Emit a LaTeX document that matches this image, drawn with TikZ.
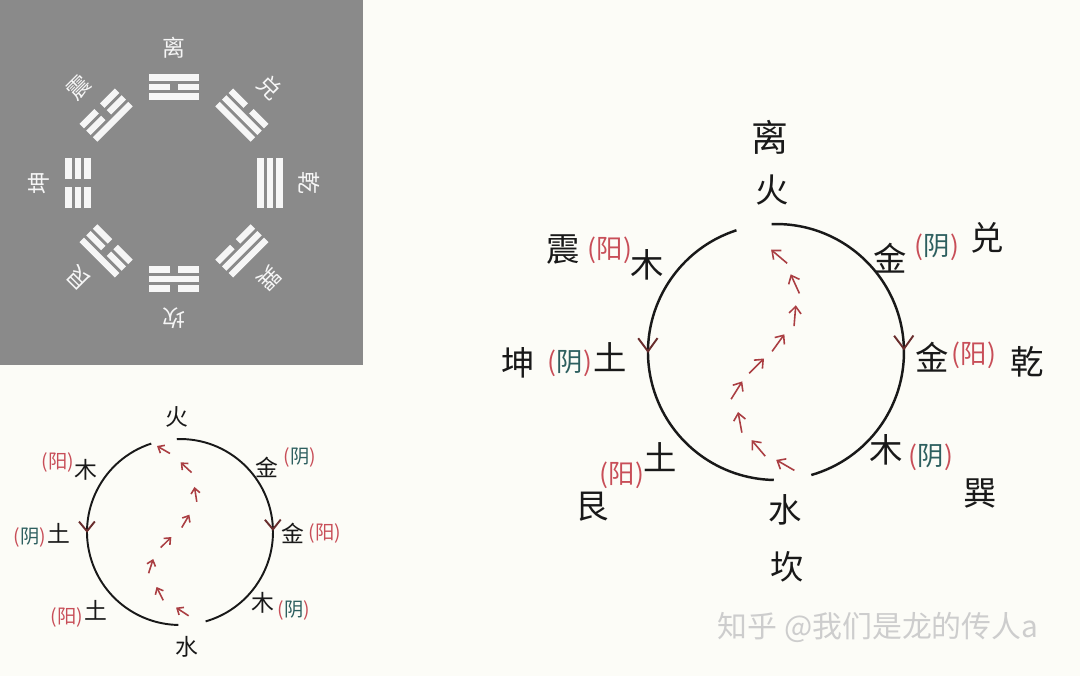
\documentclass[tikz,border=0pt]{standalone}
\usepackage{fontspec}
\usepackage{xcolor}
\usepackage{tikz}
\usetikzlibrary{arrows.meta,decorations.markings}
\newfontfamily\cjk{Noto Sans CJK SC}
\definecolor{paper}{RGB}{252,252,247}
\definecolor{panelgray}{RGB}{138,138,138}
\definecolor{guawhite}{RGB}{246,246,246}
\definecolor{ink}{RGB}{25,25,25}
\definecolor{vdark}{RGB}{105,45,45}
\definecolor{chainred}{RGB}{170,62,66}
\definecolor{tagred}{RGB}{200,78,88}
\definecolor{tagteal}{RGB}{45,95,95}
\definecolor{markgray}{RGB}{205,205,205}
\newcommand{\yintag}{{\color{tagred}(}{\color{tagteal}阴}{\color{tagred})}}

\begin{document}
\begin{tikzpicture}[x=0.02cm, y=0.02cm]
        \tikzset{big char/.style={inner sep=0pt, text=ink, font=\cjk\fontsize{19}{19}\selectfont}}
        \tikzset{big tag/.style={inner sep=0pt, text=tagred, font=\cjk\fontsize{15}{15}\selectfont}}
        \tikzset{small char/.style={inner sep=0pt, text=ink, font=\cjk\fontsize{13}{13}\selectfont}}
        \tikzset{small tag/.style={inner sep=0pt, text=tagred, font=\cjk\fontsize{11}{11}\selectfont}}
        \tikzset{gua label/.style={inner sep=0pt, text=guawhite, transform shape, font=\cjk\fontsize{13}{13}\selectfont}}
        \tikzset{yao line/.style={line width=3.6pt, color=guawhite}}
        \tikzset{ring line/.style={line width=#1, color=ink}}
        \tikzset{down mark/.style n args={3}{postaction={decorate, decoration={markings, mark=at position #1 with {\arrow{Straight Barb[length=#2, width=#3, line width=1.1pt, color=vdark]}}}}}}
        \tikzset{chain arrows/.style n args={3}{decorate, decoration={markings, mark=between positions #1 and 1 step #1 with {\draw[color=chainred, line width=0.9pt, -{Straight Barb[length=#3, width=1.7*#3]}] (-#2,0) -- (0,0);}}}}

        \fill[paper] (0,0) rectangle (1080,-676);
        \useasboundingbox (0,0) rectangle (1080,-676);
        \fill[panelgray] (0,0) rectangle (363,-365);

        % eight trigrams
        \foreach \ang/\pat/\name [count=\k] in {90/{1,0,1}/离, 45/{1,1,0}/兑, 0/{1,1,1}/乾, -45/{0,1,1}/巽, -90/{0,1,0}/坎, -135/{0,0,1}/艮, 180/{0,0,0}/坤, 135/{1,0,0}/震}{
            \begin{scope}[shift={(174,-183)}, rotate=\ang-90]
                \foreach \bit [count=\i] in \pat {
                    \pgfmathsetmacro{\yy}{77+9.5*\i}
                    \ifnum\bit=1\relax
                        \draw[yao line] (-25,\yy) -- (25,\yy);
                    \else
                        \draw[yao line] (-25,\yy) -- (-4,\yy) (4,\yy) -- (25,\yy);
                    \fi
                }
                \node[gua label] (gua\k) at (0,135) {\name};
            \end{scope}
        }

        % small wheel
        \coordinate (smallc) at (180,-532);
        \coordinate (smalltopR) at ([shift={(92:1.86cm)}]smallc);
        \coordinate (smalltopL) at ([shift={(108:1.86cm)}]smallc);
        \draw[ring line=1.1pt, down mark={0.55}{5.5pt}{9pt}] (smalltopR) arc[start angle=92, end angle=-74, radius=1.86cm];
        \draw[ring line=1.1pt, down mark={0.45}{5.5pt}{9pt}] (smalltopL) arc[start angle=108, end angle=269, radius=1.86cm];
        \coordinate (smallwater) at (202,-620);
        \coordinate (smallfire) at (157,-446);
        \path[chain arrows={0.125}{0.3cm}{3pt}] (smallwater) to[out=160,in=-90] (152,-567) to[out=90,in=-130] (176,-532) to[out=50,in=-90] (195,-494) to[out=90,in=-30] (smallfire);

        \node[small char] (sfire) at (177,-417) {火};
        \node[small tag] (syang1) at (58,-462) {(阳)};
        \node[small char] (swood1) at (86,-470) {木};
        \node[small char] (smetal1) at (267,-467) {金};
        \node[small tag] (syin1) at (300,-457) {\yintag};
        \node[small tag] (syin2) at (30,-537) {\yintag};
        \node[small char] (searth1) at (59,-533) {土};
        \node[small char] (smetal2) at (293,-533) {金};
        \node[small tag] (syang2) at (325,-533) {(阳)};
        \node[small char] (swood2) at (263,-603) {木};
        \node[small tag] (syin3) at (294,-610) {\yintag};
        \node[small tag] (syang3) at (67,-617) {(阳)};
        \node[small char] (searth2) at (96,-610) {土};
        \node[small char] (swater) at (187,-647) {水};

        % big wheel
        \coordinate (bigc) at (776,-352);
        \coordinate (bigtopR) at ([shift={(92:2.56cm)}]bigc);
        \coordinate (bigtopL) at ([shift={(108:2.56cm)}]bigc);
        \draw[ring line=1.4pt, down mark={0.55}{7.5pt}{11pt}] (bigtopR) arc[start angle=92, end angle=-74, radius=2.56cm];
        \draw[ring line=1.4pt, down mark={0.45}{7.5pt}{11pt}] (bigtopL) arc[start angle=108, end angle=269, radius=2.56cm];
        \coordinate (bigwater) at (805,-473);
        \coordinate (bigfire) at (745,-232);
        \path[chain arrows={0.1}{0.42cm}{4pt}] (bigwater) to[out=160,in=-90] (737,-400) to[out=90,in=-130] (770,-352) to[out=50,in=-90] (796,-300) to[out=90,in=-30] (bigfire);

        \node[big char, font=\cjk\fontsize{21}{21}\selectfont] (li) at (770,-137) {离};
        \node[big char] (bfire) at (772,-190) {火};
        \node[big char] (zhen) at (563,-250) {震};
        \node[big tag] (byang1) at (610,-250) {(阳)};
        \node[big char] (bwood1) at (647,-265) {木};
        \node[big char] (kun) at (518,-363) {坤};
        \node[big tag] (byin1) at (570,-363) {\yintag};
        \node[big char] (bearth1) at (610,-357) {土};
        \node[big char] (bmetal1) at (890,-258) {金};
        \node[big tag] (byin2) at (937,-247) {\yintag};
        \node[big char] (dui) at (987,-238) {兑};
        \node[big char] (bmetal2) at (932,-357) {金};
        \node[big tag] (byang2) at (974,-355) {(阳)};
        \node[big char] (qian) at (1027,-362) {乾};
        \node[big char] (bwood2) at (886,-450) {木};
        \node[big tag] (byin3) at (931,-457) {\yintag};
        \node[big char] (xun) at (980,-493) {巽};
        \node[big char] (bwater) at (785,-510) {水};
        \node[big char] (kan) at (787,-567) {坎};
        \node[big char] (bearth2) at (660,-457) {土};
        \node[big tag] (byang3) at (622,-475) {(阳)};
        \node[big char] (gen) at (592,-507) {艮};

        \node[inner sep=0pt, text=markgray, font=\cjk\fontsize{17}{17}\selectfont] (zhihu) at (878,-627) {知乎 @我们是龙的传人a};
\end{tikzpicture}
\end{document}
